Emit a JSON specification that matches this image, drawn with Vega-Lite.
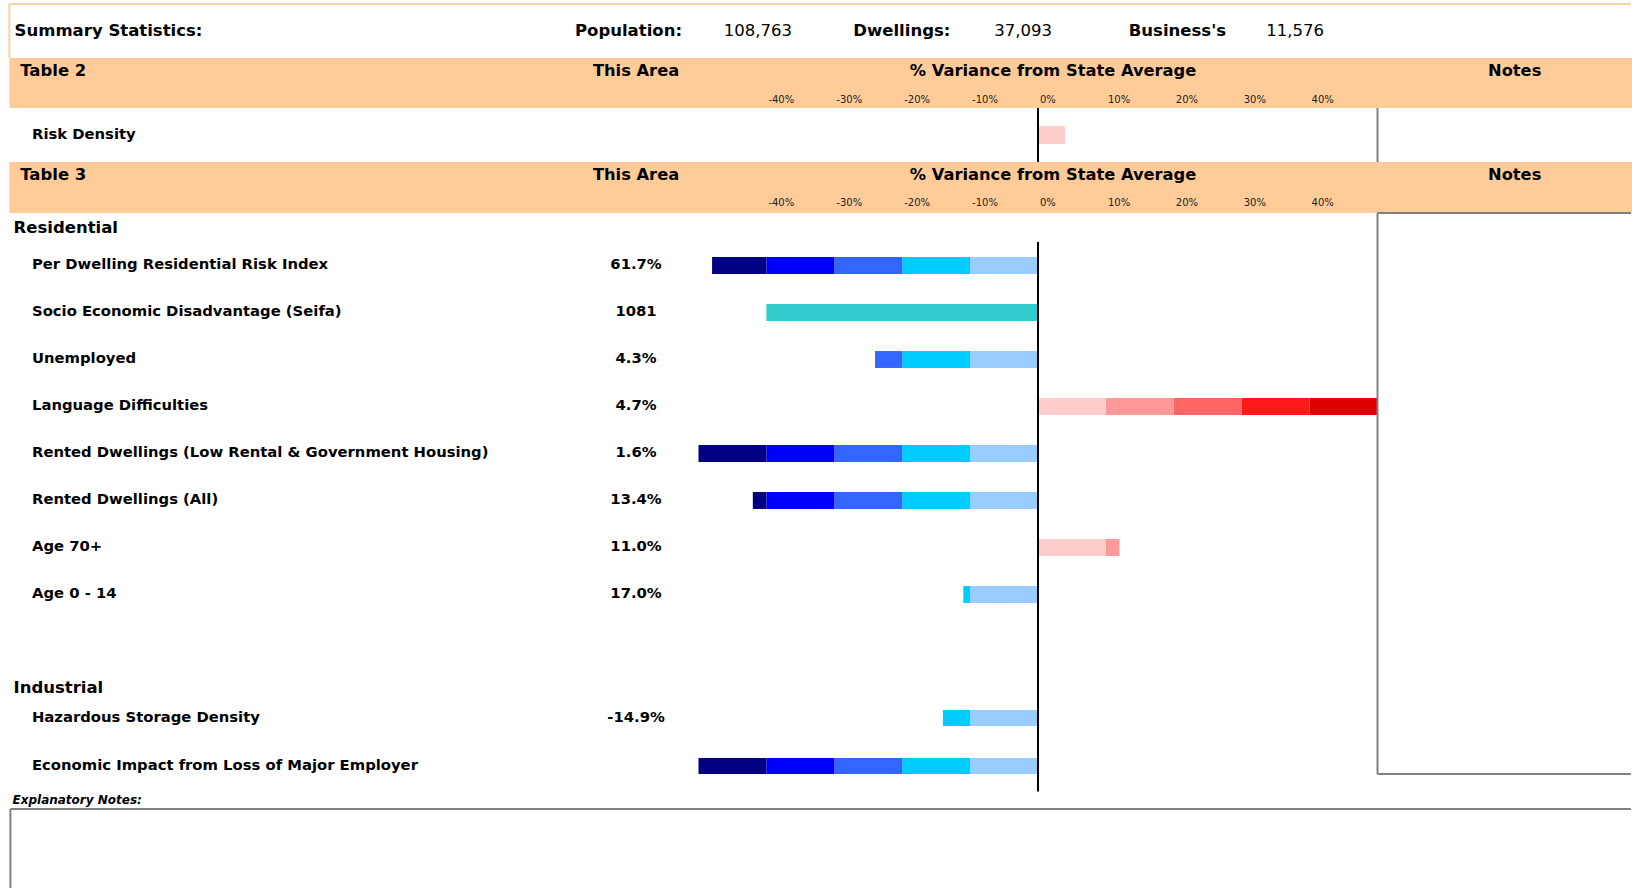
{
  "$schema": "https://vega.github.io/schema/vega-lite/v6.json",
  "padding": {"top": 3, "left": 0, "right": 0, "bottom": 0},
  "background": "white",
  "bounds": "flush",
  "spacing": 0,
  "config": {"view": {"stroke": null}, "text": {"font": "DejaVu Sans", "color": "#000000"}},
  "datasets": {
    "summary": [{"population": "108,763", "dwellings": "37,093", "businesses": "11,576"}],
    "ticks": [
      {"tick": -40, "label": "-40%"}, {"tick": -30, "label": "-30%"}, {"tick": -20, "label": "-20%"},
      {"tick": -10, "label": "-10%"}, {"tick": 0, "label": "0%"}, {"tick": 10, "label": "10%"},
      {"tick": 20, "label": "20%"}, {"tick": 30, "label": "30%"}, {"tick": 40, "label": "40%"}
    ],
    "items": [
      {"group": "risk", "item": "Risk Density", "value": ""},
      {"group": "res", "item": "Per Dwelling Residential Risk Index", "value": "61.7%"},
      {"group": "res", "item": "Socio Economic Disadvantage (Seifa)", "value": "1081"},
      {"group": "res", "item": "Unemployed", "value": "4.3%"},
      {"group": "res", "item": "Language Difficulties", "value": "4.7%"},
      {"group": "res", "item": "Rented Dwellings (Low Rental & Government Housing)", "value": "1.6%"},
      {"group": "res", "item": "Rented Dwellings (All)", "value": "13.4%"},
      {"group": "res", "item": "Age 70+", "value": "11.0%"},
      {"group": "res", "item": "Age 0 - 14", "value": "17.0%"},
      {"group": "ind", "item": "Hazardous Storage Density", "value": "-14.9%"},
      {"group": "ind", "item": "Economic Impact from Loss of Major Employer", "value": ""}
    ],
    "segments": [
      {"group": "risk", "item": "Risk Density", "from": 0, "to": 4, "band": "0 to 10%"},
      {"group": "res", "item": "Per Dwelling Residential Risk Index", "from": 0, "to": -10, "band": "0 to -10%"},
      {"group": "res", "item": "Per Dwelling Residential Risk Index", "from": -10, "to": -20, "band": "-10 to -20%"},
      {"group": "res", "item": "Per Dwelling Residential Risk Index", "from": -20, "to": -30, "band": "-20 to -30%"},
      {"group": "res", "item": "Per Dwelling Residential Risk Index", "from": -30, "to": -40, "band": "-30 to -40%"},
      {"group": "res", "item": "Per Dwelling Residential Risk Index", "from": -40, "to": -48, "band": "-40 to -50%"},
      {"group": "res", "item": "Socio Economic Disadvantage (Seifa)", "from": 0, "to": -40, "band": "Seifa"},
      {"group": "res", "item": "Unemployed", "from": 0, "to": -10, "band": "0 to -10%"},
      {"group": "res", "item": "Unemployed", "from": -10, "to": -20, "band": "-10 to -20%"},
      {"group": "res", "item": "Unemployed", "from": -20, "to": -24, "band": "-20 to -30%"},
      {"group": "res", "item": "Language Difficulties", "from": 0, "to": 10, "band": "0 to 10%"},
      {"group": "res", "item": "Language Difficulties", "from": 10, "to": 20, "band": "10 to 20%"},
      {"group": "res", "item": "Language Difficulties", "from": 20, "to": 30, "band": "20 to 30%"},
      {"group": "res", "item": "Language Difficulties", "from": 30, "to": 40, "band": "30 to 40%"},
      {"group": "res", "item": "Language Difficulties", "from": 40, "to": 50, "band": "40 to 50%"},
      {"group": "res", "item": "Rented Dwellings (Low Rental & Government Housing)", "from": 0, "to": -10, "band": "0 to -10%"},
      {"group": "res", "item": "Rented Dwellings (Low Rental & Government Housing)", "from": -10, "to": -20, "band": "-10 to -20%"},
      {"group": "res", "item": "Rented Dwellings (Low Rental & Government Housing)", "from": -20, "to": -30, "band": "-20 to -30%"},
      {"group": "res", "item": "Rented Dwellings (Low Rental & Government Housing)", "from": -30, "to": -40, "band": "-30 to -40%"},
      {"group": "res", "item": "Rented Dwellings (Low Rental & Government Housing)", "from": -40, "to": -50, "band": "-40 to -50%"},
      {"group": "res", "item": "Rented Dwellings (All)", "from": 0, "to": -10, "band": "0 to -10%"},
      {"group": "res", "item": "Rented Dwellings (All)", "from": -10, "to": -20, "band": "-10 to -20%"},
      {"group": "res", "item": "Rented Dwellings (All)", "from": -20, "to": -30, "band": "-20 to -30%"},
      {"group": "res", "item": "Rented Dwellings (All)", "from": -30, "to": -40, "band": "-30 to -40%"},
      {"group": "res", "item": "Rented Dwellings (All)", "from": -40, "to": -42, "band": "-40 to -50%"},
      {"group": "res", "item": "Age 70+", "from": 0, "to": 10, "band": "0 to 10%"},
      {"group": "res", "item": "Age 70+", "from": 10, "to": 12, "band": "10 to 20%"},
      {"group": "res", "item": "Age 0 - 14", "from": 0, "to": -10, "band": "0 to -10%"},
      {"group": "res", "item": "Age 0 - 14", "from": -10, "to": -11, "band": "-10 to -20%"},
      {"group": "ind", "item": "Hazardous Storage Density", "from": 0, "to": -10, "band": "0 to -10%"},
      {"group": "ind", "item": "Hazardous Storage Density", "from": -10, "to": -14, "band": "-10 to -20%"},
      {"group": "ind", "item": "Economic Impact from Loss of Major Employer", "from": 0, "to": -10, "band": "0 to -10%"},
      {"group": "ind", "item": "Economic Impact from Loss of Major Employer", "from": -10, "to": -20, "band": "-10 to -20%"},
      {"group": "ind", "item": "Economic Impact from Loss of Major Employer", "from": -20, "to": -30, "band": "-20 to -30%"},
      {"group": "ind", "item": "Economic Impact from Loss of Major Employer", "from": -30, "to": -40, "band": "-30 to -40%"},
      {"group": "ind", "item": "Economic Impact from Loss of Major Employer", "from": -40, "to": -50, "band": "-40 to -50%"}
    ]
  },
  "vconcat": [
    {
      "width": 1632, "height": 54,
      "data": {"name": "summary"},
      "layer": [
        {"mark": {"type": "rule", "color": "#FAD2A8", "strokeWidth": 2},
         "encoding": {"x": {"datum": -151.49, "type": "quantitative", "scale": {"domain": [-152.87, 87.48], "nice": false, "zero": false}, "axis": null}, "x2": {"datum": 87.33},
                      "y": {"datum": 1, "type": "quantitative", "scale": {"domain": [0, 1], "nice": false, "zero": false}, "axis": null}}},
        {"mark": {"type": "rule", "color": "#FAD2A8", "strokeWidth": 2},
         "encoding": {"x": {"datum": -151.49, "type": "quantitative", "scale": {"domain": [-152.87, 87.48], "nice": false, "zero": false}, "axis": null}}},
        {"mark": {"type": "text", "text": "Summary Statistics:", "align": "left", "fontWeight": "bold", "fontSize": 16.5},
         "encoding": {"x": {"datum": -150.72, "type": "quantitative", "scale": {"domain": [-152.87, 87.48], "nice": false, "zero": false}, "axis": null}}},
        {"mark": {"type": "text", "text": "Population:", "align": "right", "fontWeight": "bold", "fontSize": 16.5},
         "encoding": {"x": {"datum": -52.43, "type": "quantitative", "scale": {"domain": [-152.87, 87.48], "nice": false, "zero": false}, "axis": null}}},
        {"mark": {"type": "text", "align": "right", "fontSize": 16.5},
         "encoding": {"x": {"datum": -36.23, "type": "quantitative", "scale": {"domain": [-152.87, 87.48], "nice": false, "zero": false}, "axis": null}, "text": {"field": "population", "type": "nominal"}}},
        {"mark": {"type": "text", "text": "Dwellings:", "align": "right", "fontWeight": "bold", "fontSize": 16.5},
         "encoding": {"x": {"datum": -12.9, "type": "quantitative", "scale": {"domain": [-152.87, 87.48], "nice": false, "zero": false}, "axis": null}}},
        {"mark": {"type": "text", "align": "right", "fontSize": 16.5},
         "encoding": {"x": {"datum": 2.06, "type": "quantitative", "scale": {"domain": [-152.87, 87.48], "nice": false, "zero": false}, "axis": null}, "text": {"field": "dwellings", "type": "nominal"}}},
        {"mark": {"type": "text", "text": "Business's", "align": "right", "fontWeight": "bold", "fontSize": 16.5},
         "encoding": {"x": {"datum": 27.69, "type": "quantitative", "scale": {"domain": [-152.87, 87.48], "nice": false, "zero": false}, "axis": null}}},
        {"mark": {"type": "text", "align": "right", "fontSize": 16.5},
         "encoding": {"x": {"datum": 42.12, "type": "quantitative", "scale": {"domain": [-152.87, 87.48], "nice": false, "zero": false}, "axis": null}, "text": {"field": "businesses", "type": "nominal"}}}
      ]
    },
    {
      "width": 1632, "height": 50,
      "data": {"values": [{"table": "Table 2", "area": "This Area", "variance": "% Variance from State Average", "notes": "Notes"}]},
      "layer": [
        {"mark": {"type": "rect", "color": "#FFCC99"},
         "encoding": {"x": {"datum": -151.49, "type": "quantitative", "scale": {"domain": [-152.87, 87.48], "nice": false, "zero": false}, "axis": null}, "x2": {"datum": 87.48}}},
        {"mark": {"type": "text", "align": "left", "fontWeight": "bold", "fontSize": 16.5},
         "encoding": {"x": {"datum": -149.9, "type": "quantitative", "scale": {"domain": [-152.87, 87.48], "nice": false, "zero": false}, "axis": null},
                      "y": {"datum": "title", "type": "nominal", "scale": {"type": "band", "domain": ["title", "ticks"], "paddingInner": 0, "paddingOuter": 0}, "axis": null},
                      "text": {"field": "table", "type": "nominal"}}},
        {"mark": {"type": "text", "align": "center", "fontWeight": "bold", "fontSize": 16.3},
         "encoding": {"x": {"datum": -59.2, "type": "quantitative", "scale": {"domain": [-152.87, 87.48], "nice": false, "zero": false}, "axis": null},
                      "y": {"datum": "title", "type": "nominal", "scale": {"type": "band", "domain": ["title", "ticks"], "paddingInner": 0, "paddingOuter": 0}, "axis": null},
                      "text": {"field": "area", "type": "nominal"}}},
        {"mark": {"type": "text", "align": "center", "fontWeight": "bold", "fontSize": 16.3},
         "encoding": {"x": {"datum": 2.21, "type": "quantitative", "scale": {"domain": [-152.87, 87.48], "nice": false, "zero": false}, "axis": null},
                      "y": {"datum": "title", "type": "nominal", "scale": {"type": "band", "domain": ["title", "ticks"], "paddingInner": 0, "paddingOuter": 0}, "axis": null},
                      "text": {"field": "variance", "type": "nominal"}}},
        {"mark": {"type": "text", "align": "center", "fontWeight": "bold", "fontSize": 16.3},
         "encoding": {"x": {"datum": 70.2, "type": "quantitative", "scale": {"domain": [-152.87, 87.48], "nice": false, "zero": false}, "axis": null},
                      "y": {"datum": "title", "type": "nominal", "scale": {"type": "band", "domain": ["title", "ticks"], "paddingInner": 0, "paddingOuter": 0}, "axis": null},
                      "text": {"field": "notes", "type": "nominal"}}},
        {"data": {"name": "ticks"},
         "mark": {"type": "text", "align": "left", "dx": 2, "dy": 4, "fontSize": 10, "color": "#222222"},
         "encoding": {"x": {"field": "tick", "type": "quantitative", "scale": {"domain": [-152.87, 87.48], "nice": false, "zero": false}, "axis": null},
                      "y": {"datum": "ticks", "type": "nominal", "scale": {"type": "band", "domain": ["title", "ticks"], "paddingInner": 0, "paddingOuter": 0}, "axis": null},
                      "text": {"field": "label", "type": "nominal"}}}
      ]
    },
    {
      "width": 1632, "height": 54,
      "layer": [
        {"data": {"name": "segments"}, "transform": [{"filter": "datum.group === 'risk'"}],
         "mark": {"type": "bar"},
         "encoding": {"x": {"field": "from", "type": "quantitative", "scale": {"domain": [-152.87, 87.48], "nice": false, "zero": false}, "axis": null}, "x2": {"field": "to"},
                      "y": {"field": "item", "type": "nominal", "scale": {"type": "band", "domain": ["Risk Density"], "paddingInner": 0.67, "paddingOuter": 0.335}, "axis": null},
                      "color": {"field": "band", "type": "nominal", "legend": null, "scale": {"domain": ["0 to -10%", "-10 to -20%", "-20 to -30%", "-30 to -40%", "-40 to -50%", "0 to 10%", "10 to 20%", "20 to 30%", "30 to 40%", "40 to 50%", "Seifa"], "range": ["#99CCFF", "#00CCFF", "#3366FF", "#0000FF", "#000080", "#FFCCCC", "#FF9999", "#FF6666", "#FF1A1A", "#DF0000", "#33CCCC"]}}}},
        {"data": {"name": "items"}, "transform": [{"filter": "datum.group === 'risk'"}],
         "mark": {"type": "text", "align": "left", "fontWeight": "bold", "fontSize": 14.8},
         "encoding": {"x": {"datum": -148.16, "type": "quantitative", "scale": {"domain": [-152.87, 87.48], "nice": false, "zero": false}, "axis": null},
                      "y": {"field": "item", "type": "nominal", "scale": {"type": "band", "domain": ["Risk Density"], "paddingInner": 0.67, "paddingOuter": 0.335}, "axis": null},
                      "text": {"field": "item", "type": "nominal"}}},
        {"data": {"values": [{}]}, "mark": {"type": "rule", "color": "#000000", "strokeWidth": 2},
         "encoding": {"x": {"datum": 0, "type": "quantitative", "scale": {"domain": [-152.87, 87.48], "nice": false, "zero": false}, "axis": null}}},
        {"data": {"values": [{}]}, "mark": {"type": "rule", "color": "#808080", "strokeWidth": 2},
         "encoding": {"x": {"datum": 50, "type": "quantitative", "scale": {"domain": [-152.87, 87.48], "nice": false, "zero": false}, "axis": null}}}
      ]
    },
    {
      "width": 1632, "height": 51,
      "data": {"values": [{"table": "Table 3", "area": "This Area", "variance": "% Variance from State Average", "notes": "Notes"}]},
      "layer": [
        {"mark": {"type": "rect", "color": "#FFCC99"},
         "encoding": {"x": {"datum": -151.49, "type": "quantitative", "scale": {"domain": [-152.87, 87.48], "nice": false, "zero": false}, "axis": null}, "x2": {"datum": 87.48}}},
        {"mark": {"type": "text", "align": "left", "fontWeight": "bold", "fontSize": 16.5},
         "encoding": {"x": {"datum": -149.9, "type": "quantitative", "scale": {"domain": [-152.87, 87.48], "nice": false, "zero": false}, "axis": null},
                      "y": {"datum": "title", "type": "nominal", "scale": {"type": "band", "domain": ["title", "ticks"], "paddingInner": 0, "paddingOuter": 0}, "axis": null},
                      "text": {"field": "table", "type": "nominal"}}},
        {"mark": {"type": "text", "align": "center", "fontWeight": "bold", "fontSize": 16.3},
         "encoding": {"x": {"datum": -59.2, "type": "quantitative", "scale": {"domain": [-152.87, 87.48], "nice": false, "zero": false}, "axis": null},
                      "y": {"datum": "title", "type": "nominal", "scale": {"type": "band", "domain": ["title", "ticks"], "paddingInner": 0, "paddingOuter": 0}, "axis": null},
                      "text": {"field": "area", "type": "nominal"}}},
        {"mark": {"type": "text", "align": "center", "fontWeight": "bold", "fontSize": 16.3},
         "encoding": {"x": {"datum": 2.21, "type": "quantitative", "scale": {"domain": [-152.87, 87.48], "nice": false, "zero": false}, "axis": null},
                      "y": {"datum": "title", "type": "nominal", "scale": {"type": "band", "domain": ["title", "ticks"], "paddingInner": 0, "paddingOuter": 0}, "axis": null},
                      "text": {"field": "variance", "type": "nominal"}}},
        {"mark": {"type": "text", "align": "center", "fontWeight": "bold", "fontSize": 16.3},
         "encoding": {"x": {"datum": 70.2, "type": "quantitative", "scale": {"domain": [-152.87, 87.48], "nice": false, "zero": false}, "axis": null},
                      "y": {"datum": "title", "type": "nominal", "scale": {"type": "band", "domain": ["title", "ticks"], "paddingInner": 0, "paddingOuter": 0}, "axis": null},
                      "text": {"field": "notes", "type": "nominal"}}},
        {"data": {"name": "ticks"},
         "mark": {"type": "text", "align": "left", "dx": 2, "dy": 3, "fontSize": 10, "color": "#222222"},
         "encoding": {"x": {"field": "tick", "type": "quantitative", "scale": {"domain": [-152.87, 87.48], "nice": false, "zero": false}, "axis": null},
                      "y": {"datum": "ticks", "type": "nominal", "scale": {"type": "band", "domain": ["title", "ticks"], "paddingInner": 0, "paddingOuter": 0}, "axis": null},
                      "text": {"field": "label", "type": "nominal"}}}
      ]
    },
    {
      "width": 1632, "height": 29,
      "data": {"values": [{"section": "Residential"}]},
      "layer": [
        {"mark": {"type": "text", "align": "left", "fontWeight": "bold", "fontSize": 16.5},
         "encoding": {"x": {"datum": -150.88, "type": "quantitative", "scale": {"domain": [-152.87, 87.48], "nice": false, "zero": false}, "axis": null}, "text": {"field": "section", "type": "nominal"}}},
        {"mark": {"type": "rule", "color": "#808080", "strokeWidth": 2},
         "encoding": {"x": {"datum": 50, "type": "quantitative", "scale": {"domain": [-152.87, 87.48], "nice": false, "zero": false}, "axis": null}}},
        {"mark": {"type": "rule", "color": "#808080", "strokeWidth": 2},
         "encoding": {"x": {"datum": 50, "type": "quantitative", "scale": {"domain": [-152.87, 87.48], "nice": false, "zero": false}, "axis": null}, "x2": {"datum": 87.33},
                      "y": {"datum": 1, "type": "quantitative", "scale": {"domain": [0, 1], "nice": false, "zero": false}, "axis": null}}}
      ]
    },
    {
      "width": 1632, "height": 423,
      "layer": [
        {"data": {"name": "segments"}, "transform": [{"filter": "datum.group === 'res'"}],
         "mark": {"type": "bar"},
         "encoding": {"x": {"field": "from", "type": "quantitative", "scale": {"domain": [-152.87, 87.48], "nice": false, "zero": false}, "axis": null}, "x2": {"field": "to"},
                      "y": {"field": "item", "type": "nominal", "scale": {"type": "band", "domain": ["Per Dwelling Residential Risk Index", "Socio Economic Disadvantage (Seifa)", "Unemployed", "Language Difficulties", "Rented Dwellings (Low Rental & Government Housing)", "Rented Dwellings (All)", "Age 70+", "Age 0 - 14", "(blank)"], "paddingInner": 0.64, "paddingOuter": 0.32}, "axis": null},
                      "color": {"field": "band", "type": "nominal", "legend": null, "scale": {"domain": ["0 to -10%", "-10 to -20%", "-20 to -30%", "-30 to -40%", "-40 to -50%", "0 to 10%", "10 to 20%", "20 to 30%", "30 to 40%", "40 to 50%", "Seifa"], "range": ["#99CCFF", "#00CCFF", "#3366FF", "#0000FF", "#000080", "#FFCCCC", "#FF9999", "#FF6666", "#FF1A1A", "#DF0000", "#33CCCC"]}}}},
        {"data": {"name": "items"}, "transform": [{"filter": "datum.group === 'res'"}],
         "mark": {"type": "text", "align": "left", "fontWeight": "bold", "fontSize": 14.8, "dy": -1},
         "encoding": {"x": {"datum": -148.16, "type": "quantitative", "scale": {"domain": [-152.87, 87.48], "nice": false, "zero": false}, "axis": null},
                      "y": {"field": "item", "type": "nominal", "scale": {"type": "band", "domain": ["Per Dwelling Residential Risk Index", "Socio Economic Disadvantage (Seifa)", "Unemployed", "Language Difficulties", "Rented Dwellings (Low Rental & Government Housing)", "Rented Dwellings (All)", "Age 70+", "Age 0 - 14", "(blank)"], "paddingInner": 0.64, "paddingOuter": 0.32}, "axis": null},
                      "text": {"field": "item", "type": "nominal"}}},
        {"data": {"name": "items"}, "transform": [{"filter": "datum.group === 'res'"}],
         "mark": {"type": "text", "align": "center", "fontWeight": "bold", "fontSize": 14.8, "dy": -1},
         "encoding": {"x": {"datum": -59.2, "type": "quantitative", "scale": {"domain": [-152.87, 87.48], "nice": false, "zero": false}, "axis": null},
                      "y": {"field": "item", "type": "nominal", "scale": {"type": "band", "domain": ["Per Dwelling Residential Risk Index", "Socio Economic Disadvantage (Seifa)", "Unemployed", "Language Difficulties", "Rented Dwellings (Low Rental & Government Housing)", "Rented Dwellings (All)", "Age 70+", "Age 0 - 14", "(blank)"], "paddingInner": 0.64, "paddingOuter": 0.32}, "axis": null},
                      "text": {"field": "value", "type": "nominal"}}},
        {"data": {"values": [{}]}, "mark": {"type": "rule", "color": "#000000", "strokeWidth": 2},
         "encoding": {"x": {"datum": 0, "type": "quantitative", "scale": {"domain": [-152.87, 87.48], "nice": false, "zero": false}, "axis": null}}},
        {"data": {"values": [{}]}, "mark": {"type": "rule", "color": "#808080", "strokeWidth": 2},
         "encoding": {"x": {"datum": 50, "type": "quantitative", "scale": {"domain": [-152.87, 87.48], "nice": false, "zero": false}, "axis": null}}}
      ]
    },
    {
      "width": 1632, "height": 45,
      "data": {"values": [{"section": "Industrial"}]},
      "layer": [
        {"mark": {"type": "text", "align": "left", "fontWeight": "bold", "fontSize": 16.5},
         "encoding": {"x": {"datum": -150.88, "type": "quantitative", "scale": {"domain": [-152.87, 87.48], "nice": false, "zero": false}, "axis": null}, "text": {"field": "section", "type": "nominal"}}},
        {"mark": {"type": "rule", "color": "#000000", "strokeWidth": 2},
         "encoding": {"x": {"datum": 0, "type": "quantitative", "scale": {"domain": [-152.87, 87.48], "nice": false, "zero": false}, "axis": null}}},
        {"mark": {"type": "rule", "color": "#808080", "strokeWidth": 2},
         "encoding": {"x": {"datum": 50, "type": "quantitative", "scale": {"domain": [-152.87, 87.48], "nice": false, "zero": false}, "axis": null}}}
      ]
    },
    {
      "width": 1632, "height": 64,
      "layer": [
        {"data": {"name": "segments"}, "transform": [{"filter": "datum.group === 'ind'"}],
         "mark": {"type": "bar"},
         "encoding": {"x": {"field": "from", "type": "quantitative", "scale": {"domain": [-152.87, 87.48], "nice": false, "zero": false}, "axis": null}, "x2": {"field": "to"},
                      "y": {"field": "item", "type": "nominal", "scale": {"type": "band", "domain": ["Hazardous Storage Density", "Economic Impact from Loss of Major Employer"], "paddingInner": 0.667, "paddingOuter": 0}, "axis": null},
                      "color": {"field": "band", "type": "nominal", "legend": null, "scale": {"domain": ["0 to -10%", "-10 to -20%", "-20 to -30%", "-30 to -40%", "-40 to -50%", "0 to 10%", "10 to 20%", "20 to 30%", "30 to 40%", "40 to 50%", "Seifa"], "range": ["#99CCFF", "#00CCFF", "#3366FF", "#0000FF", "#000080", "#FFCCCC", "#FF9999", "#FF6666", "#FF1A1A", "#DF0000", "#33CCCC"]}}}},
        {"data": {"name": "items"}, "transform": [{"filter": "datum.group === 'ind'"}],
         "mark": {"type": "text", "align": "left", "fontWeight": "bold", "fontSize": 14.8},
         "encoding": {"x": {"datum": -148.16, "type": "quantitative", "scale": {"domain": [-152.87, 87.48], "nice": false, "zero": false}, "axis": null},
                      "y": {"field": "item", "type": "nominal", "scale": {"type": "band", "domain": ["Hazardous Storage Density", "Economic Impact from Loss of Major Employer"], "paddingInner": 0.667, "paddingOuter": 0}, "axis": null},
                      "text": {"field": "item", "type": "nominal"}}},
        {"data": {"name": "items"}, "transform": [{"filter": "datum.group === 'ind'"}],
         "mark": {"type": "text", "align": "center", "fontWeight": "bold", "fontSize": 14.8},
         "encoding": {"x": {"datum": -59.2, "type": "quantitative", "scale": {"domain": [-152.87, 87.48], "nice": false, "zero": false}, "axis": null},
                      "y": {"field": "item", "type": "nominal", "scale": {"type": "band", "domain": ["Hazardous Storage Density", "Economic Impact from Loss of Major Employer"], "paddingInner": 0.667, "paddingOuter": 0}, "axis": null},
                      "text": {"field": "value", "type": "nominal"}}},
        {"data": {"values": [{}]}, "mark": {"type": "rule", "color": "#000000", "strokeWidth": 2},
         "encoding": {"x": {"datum": 0, "type": "quantitative", "scale": {"domain": [-152.87, 87.48], "nice": false, "zero": false}, "axis": null}}},
        {"data": {"values": [{}]}, "mark": {"type": "rule", "color": "#808080", "strokeWidth": 2},
         "encoding": {"x": {"datum": 50, "type": "quantitative", "scale": {"domain": [-152.87, 87.48], "nice": false, "zero": false}, "axis": null}}},
        {"data": {"values": [{}]}, "mark": {"type": "rule", "color": "#808080", "strokeWidth": 2},
         "encoding": {"x": {"datum": 50, "type": "quantitative", "scale": {"domain": [-152.87, 87.48], "nice": false, "zero": false}, "axis": null}, "x2": {"datum": 87.33},
                      "y": {"datum": "Economic Impact from Loss of Major Employer", "type": "nominal", "bandPosition": 1, "scale": {"type": "band", "domain": ["Hazardous Storage Density", "Economic Impact from Loss of Major Employer"], "paddingInner": 0.667, "paddingOuter": 0}, "axis": null}}}
      ]
    },
    {
      "width": 1632, "height": 35,
      "layer": [
        {"data": {"values": [{}]}, "mark": {"type": "rect", "color": "#000000"},
         "encoding": {"x": {"datum": -0.147, "type": "quantitative", "scale": {"domain": [-152.87, 87.48], "nice": false, "zero": false}, "axis": null}, "x2": {"datum": 0.147},
                      "y": {"datum": "stub", "type": "nominal", "scale": {"type": "band", "domain": ["stub", "label"], "paddingInner": 0, "paddingOuter": 0}, "axis": null}}},
        {"data": {"values": [{"label": "Explanatory Notes:"}]},
         "mark": {"type": "text", "align": "left", "fontWeight": "bold", "fontStyle": "italic", "fontSize": 12},
         "encoding": {"x": {"datum": -151.03, "type": "quantitative", "scale": {"domain": [-152.87, 87.48], "nice": false, "zero": false}, "axis": null},
                      "y": {"datum": "label", "type": "nominal", "scale": {"type": "band", "domain": ["stub", "label"], "paddingInner": 0, "paddingOuter": 0}, "axis": null},
                      "text": {"field": "label", "type": "nominal"}}}
      ]
    },
    {
      "width": 1632, "height": 79,
      "data": {"values": [{}]},
      "layer": [
        {"mark": {"type": "rule", "color": "#808080", "strokeWidth": 2},
         "encoding": {"x": {"datum": -151.34, "type": "quantitative", "scale": {"domain": [-152.87, 87.48], "nice": false, "zero": false}, "axis": null}}},
        {"mark": {"type": "rule", "color": "#808080", "strokeWidth": 2},
         "encoding": {"x": {"datum": -151.34, "type": "quantitative", "scale": {"domain": [-152.87, 87.48], "nice": false, "zero": false}, "axis": null}, "x2": {"datum": 87.33},
                      "y": {"datum": 1, "type": "quantitative", "scale": {"domain": [0, 1], "nice": false, "zero": false}, "axis": null}}}
      ]
    }
  ]
}
